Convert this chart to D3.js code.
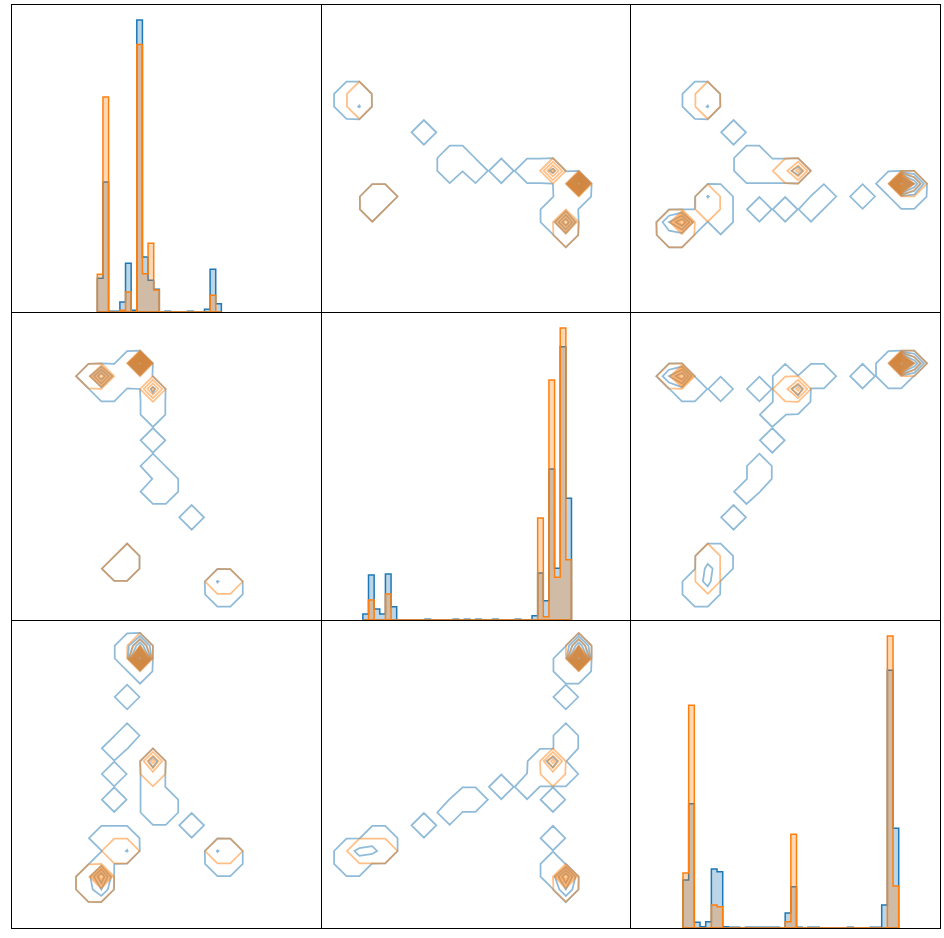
<!DOCTYPE html>
<html>
<head>
<meta charset="utf-8">
<script src="https://cdn.jsdelivr.net/npm/d3@7"></script>
<style>
  body { margin: 0; background: #fff; }
</style>
</head>
<body>
<svg id="pairs"></svg>
<script>
// three variables, two classes
const classColors = ["#1f77b4", "#ff7f0e"];
const gridN = 25; // contour grid: points 0..24 along each axis (axis domain in grid units)
const levels = [0.02, 1, 2, 3, 4, 5, 6, 7, 8, 9];

// histogram bins (in grid units) and counts, per variable
const histStart = [6.69, 3.27, 4.08];
const histWidth = [0.437, 0.437, 0.440];
const histBlue = [
  [101, 390, 2, 2, 30, 146, 5, 876, 165, 95, 68, 0, 2, 0, 0, 0, 2, 0, 0, 8, 128, 25],
  [18, 135, 33, 18, 138, 40, 0, 0, 0, 0, 0, 2, 0, 0, 0, 0, 2, 0, 2, 0, 2, 0, 0, 2, 0, 0, 0, 2, 0, 0, 13, 141, 58, 453, 155, 820, 365],
  [144, 373, 17, 4, 19, 177, 169, 4, 2, 2, 0, 2, 2, 2, 2, 2, 2, 0, 45, 124, 2, 0, 2, 2, 0, 0, 0, 0, 0, 2, 0, 0, 0, 2, 2, 69, 774, 300]
];
const histOrange = [
  [113, 645, 0, 0, 5, 60, 0, 803, 115, 206, 66, 0, 0, 0, 0, 0, 0, 0, 0, 0, 50, 0],
  [0, 60, 0, 0, 78, 0, 0, 0, 0, 0, 0, 0, 0, 0, 0, 0, 0, 0, 0, 0, 0, 0, 0, 0, 0, 0, 0, 0, 0, 0, 0, 306, 10, 720, 128, 876, 181],
  [165, 669, 0, 0, 0, 69, 64, 0, 0, 0, 0, 0, 0, 0, 0, 0, 0, 0, 19, 282, 0, 0, 0, 0, 0, 0, 0, 0, 0, 0, 0, 0, 0, 0, 0, 0, 877, 126]
];

// 2d binned density per pair of variables: [cell of first var, cell of second var, value]
const blue01 = [
  [6, 19, 0.5], [7, 19, 4], [8, 19, 0.5], [9, 19, 0.5], [10, 19, 0.5], [9, 20, 0.5], [10, 20, 10],
  [7, 18, 0.5], [8, 18, 0.5], [10, 18, 0.021], [11, 18, 1.2], [11, 17, 0.5], [11, 16, 0.5],
  [11, 14, 0.5], [11, 12, 0.5], [11, 11, 0.021], [11, 10, 0.5], [12, 10, 0.5], [12, 11, 0.5], [14, 8, 0.5],
  [8, 4, 0.5], [9, 4, 0.5], [9, 5, 0.5],
  [16, 3, 1.05], [17, 3, 0.5], [16, 2, 0.5], [17, 2, 0.5]
];
const orange01 = [
  [6, 19, 0.5], [7, 19, 6], [10, 20, 10], [11, 18, 3.5],
  [8, 4, 0.5], [9, 4, 0.5], [9, 5, 0.5], [16, 3, 0.5], [17, 3, 0.5]
];
const blue02 = [
  [9, 22, 0.5], [10, 22, 4], [9, 21, 0.5], [10, 21, 10], [10, 20, 0.5],
  [9, 18, 0.5], [9, 15, 0.5], [9, 14, 0.021], [8, 14, 0.5], [8, 12, 0.5], [8, 10, 0.5],
  [11, 13, 1.5], [11, 12, 0.5], [11, 11, 0.5], [11, 10, 0.5], [11, 9, 0.5], [12, 10, 0.5], [12, 9, 0.5],
  [14, 8, 0.5],
  [7, 7, 0.5], [8, 7, 0.5], [9, 7, 0.5], [8, 6, 0.5], [9, 6, 1.05], [8, 5, 0.021], [7, 5, 0.5],
  [6, 4, 0.5], [7, 4, 4], [6, 3, 0.5], [7, 3, 2],
  [16, 6, 1.05], [17, 6, 0.5], [16, 5, 0.5], [17, 5, 0.5]
];
const orange02 = [
  [10, 22, 2], [10, 21, 10], [11, 13, 3.5], [11, 12, 0.5], [8, 6, 0.5], [9, 6, 0.5],
  [6, 4, 0.5], [7, 4, 7], [6, 3, 0.5], [7, 3, 0.5], [16, 6, 0.5], [17, 6, 0.5]
];
const blue12 = [
  [19, 20, 0.5], [20, 20, 0.5], [19, 21, 0.5], [20, 21, 10], [20, 22, 4],
  [19, 18, 0.5],
  [19, 15, 0.5], [19, 14, 0.5], [19, 13, 0.021], [19, 12, 0.5], [18, 13, 1.5], [18, 12, 0.5],
  [17, 13, 0.5], [17, 12, 0.5], [16, 12, 0.021], [16, 11, 0.5],
  [18, 10, 0.5], [14, 11, 0.5], [12, 10, 0.5], [11, 10, 0.5], [10, 10, 0.021], [10, 9, 0.5], [8, 8, 0.5],
  [2, 5, 0.5], [3, 5, 0.5], [2, 6, 0.5], [3, 6, 1.3], [4, 6, 1.3], [5, 6, 0.5], [4, 7, 0.5], [5, 7, 0.5],
  [19, 3, 2], [19, 4, 4], [18, 4, 0.5], [18, 5, 0.5], [18, 7, 0.5]
];
const orange12 = [
  [20, 22, 2], [20, 21, 10], [18, 13, 3.5], [18, 12, 0.5], [3, 6, 0.5], [4, 6, 0.5], [5, 6, 0.5],
  [19, 4, 7], [19, 3, 0.5]
];
const pairCells = {
  "0-1": [blue01, orange01],
  "0-2": [blue02, orange02],
  "1-2": [blue12, orange12]
};

const width = 944, height = 938;
const marginLeft = 11, marginTop = 4;
const panelW = 309.67, panelH = 308;

const svg = d3.select("#pairs")
    .attr("width", width)
    .attr("height", height)
    .attr("viewBox", [0, 0, width, height]);

svg.append("rect").attr("width", width).attr("height", height).attr("fill", "white");

function panelScales(r, c) {
  const x0 = marginLeft + c * panelW, y0 = marginTop + r * panelH;
  const x = d3.scaleLinear().domain([0, gridN - 1]).range([x0, x0 + panelW]);
  const y = d3.scaleLinear().domain([0, gridN - 1]).range([y0 + panelH, y0]);
  return {x, y, x0, y0};
}

function drawHist(g, i, sc) {
  const ymax = d3.max([...histBlue[i], ...histOrange[i]]) * 1.055;
  const y = d3.scaleLinear().domain([0, ymax]).range([sc.y0 + panelH, sc.y0]);
  const line = d3.line().x(d => sc.x(d[0])).y(d => y(d[1]));
  [histBlue[i], histOrange[i]].forEach((counts, k) => {
    const pts = [[histStart[i], 0]];
    counts.forEach((v, b) => {
      const xa = histStart[i] + b * histWidth[i];
      pts.push([xa, v], [xa + histWidth[i], v]);
    });
    pts.push([histStart[i] + counts.length * histWidth[i], 0]);
    g.append("path")
        .attr("d", line(pts) + "Z")
        .attr("fill", classColors[k])
        .attr("fill-opacity", 0.3)
        .attr("stroke", classColors[k])
        .attr("stroke-width", 1.5)
        .attr("stroke-linejoin", "miter");
  });
}

function drawContours(g, r, c, sc) {
  // lower triangle: x = var c, y = var r ; upper triangle is the transpose
  const key = c < r ? `${c}-${r}` : `${r}-${c}`;
  const swap = c > r;
  pairCells[key].forEach((cells, k) => {
    const values = new Array(gridN * gridN).fill(0);
    cells.forEach(([a, b, v]) => {
      const gx = swap ? b : a, gy = swap ? a : b;
      values[gy * gridN + gx] = v;
    });
    const contours = d3.contours().size([gridN, gridN]).thresholds(levels)(values);
    const proj = d3.geoTransform({
      point(px, py) { this.stream.point(sc.x(px - 0.5), sc.y(py - 0.5)); }
    });
    g.selectAll(null)
      .data(contours)
      .join("path")
        .attr("d", d3.geoPath(proj))
        .attr("fill", "none")
        .attr("stroke", classColors[k])
        .attr("stroke-opacity", 0.5)
        .attr("stroke-width", 1.75)
        .attr("stroke-linejoin", "miter");
  });
}

for (let r = 0; r < 3; r++) {
  for (let c = 0; c < 3; c++) {
    const sc = panelScales(r, c);
    const g = svg.append("g");
    if (r === c) drawHist(g, r, sc);
    else drawContours(g, r, c, sc);
  }
}

// panel frames on top, snapped to whole pixels
for (let r = 0; r < 3; r++) {
  for (let c = 0; c < 3; c++) {
    const sc = panelScales(r, c);
    const xa = Math.round(sc.x0), xb = Math.round(sc.x0 + panelW);
    const ya = Math.round(sc.y0), yb = Math.round(sc.y0 + panelH);
    svg.append("rect")
        .attr("x", xa + 0.5)
        .attr("y", ya + 0.5)
        .attr("width", xb - xa)
        .attr("height", yb - ya)
        .attr("fill", "none")
        .attr("stroke", "black")
        .attr("stroke-width", 1);
  }
}
</script>
</body>
</html>
